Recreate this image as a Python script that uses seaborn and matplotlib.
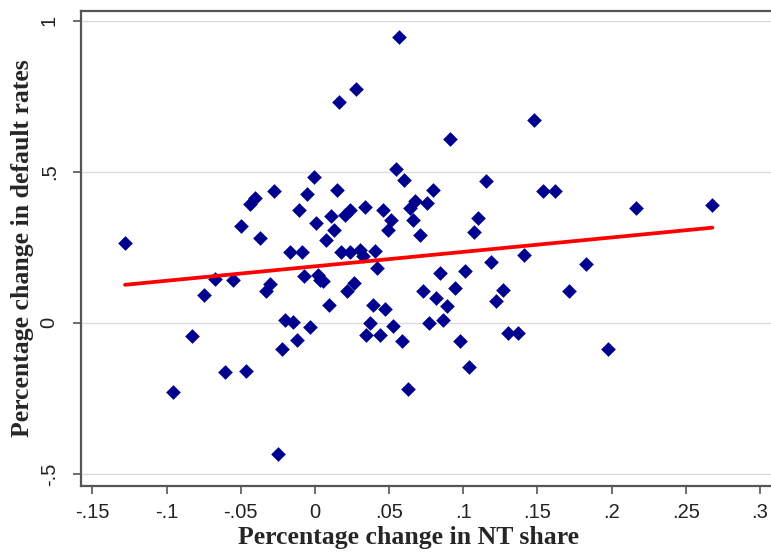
# Scatter of default-rate change against NT share change, with linear fit

import matplotlib
matplotlib.use('Agg')
import matplotlib.pyplot as plt
import seaborn as sns
import pandas as pd

# values
nt_share_change = [
    -0.128, -0.0955, -0.083, -0.0748, -0.0674, -0.0606, -0.0555, -0.0499, -0.0465, -0.0438,
    -0.0404, -0.037, -0.033, -0.0303, -0.0276, -0.0247, -0.022, -0.0202, -0.0168, -0.0146,
    -0.0123, -0.0106, -0.009, -0.0072, -0.005, -0.003, -0.0005, 0.0007, 0.0022, 0.0034,
    0.0056, 0.0074, 0.0094, 0.0108, 0.013, 0.0146, 0.0164, 0.0173, 0.020, 0.0214,
    0.0236, 0.0236, 0.0263, 0.028, 0.0303, 0.0325, 0.0337, 0.0348, 0.037, 0.0389,
    0.0404, 0.042, 0.0438, 0.0456, 0.047, 0.049, 0.051, 0.053, 0.0546, 0.0566,
    0.0589, 0.060, 0.063, 0.064, 0.0662, 0.0674, 0.0708, 0.0726, 0.0753, 0.077,
    0.0797, 0.0815, 0.0842, 0.0865, 0.0894, 0.0914, 0.0943, 0.098, 0.101, 0.104,
    0.107, 0.110, 0.1152, 0.1184, 0.122, 0.1265, 0.130, 0.137, 0.1408, 0.1478,
    0.1539, 0.1617, 0.1714, 0.183, 0.1977, 0.2163, 0.268,
]
default_rate_change = [
    0.263, -0.23, -0.043, 0.093, 0.145, -0.162, 0.142, 0.322, -0.16, 0.392,
    0.413, 0.28, 0.104, 0.127, 0.435, -0.432, -0.086, 0.01, 0.236, 0.002,
    -0.058, 0.374, 0.236, 0.156, 0.426, -0.012, 0.484, 0.332, 0.159, 0.142,
    0.137, 0.275, 0.06, 0.352, 0.308, 0.438, 0.729, 0.236, 0.357, 0.104,
    0.374, 0.236, 0.131, 0.774, 0.242, 0.22, 0.383, -0.04, -0.001, 0.06,
    0.238, 0.181, -0.04, 0.374, 0.045, 0.308, 0.339, -0.009, 0.51, 0.946,
    -0.06, 0.474, -0.22, 0.38, 0.341, 0.402, 0.291, 0.107, 0.398, -0.001,
    0.44, 0.082, 0.164, 0.01, 0.057, 0.609, 0.115, -0.06, 0.17, -0.145,
    0.302, 0.347, 0.468, 0.2, 0.071, 0.109, -0.034, -0.034, 0.225, 0.672,
    0.435, 0.435, 0.104, 0.195, -0.087, 0.38, 0.389,
]

# fitted line, end points
fit_x = [-0.128, 0.268]
fit_y = [0.126, 0.315]

x_ticks = [-0.15, -0.1, -0.05, 0, 0.05, 0.1, 0.15, 0.2, 0.25, 0.3]
x_tick_labels = ['-.15', '-.1', '-.05', '0', '.05', '.1', '.15', '.2', '.25', '.3']
y_ticks = [-0.5, 0, 0.5, 1]
y_tick_labels = ['-.5', '0', '.5', '1']

df = pd.DataFrame({'nt': nt_share_change, 'dr': default_rate_change})

sns.set_style('white')
plt.rcParams['font.family'] = ['Liberation Sans', 'DejaVu Sans']

fig = plt.figure(figsize=(7.71, 5.55), dpi=100)
ax = fig.add_axes([0.105, 0.124, 0.895, 0.857])

# light horizontal grid like Stata
for yv in y_ticks:
    ax.axhline(yv, color='#dcdcdc', linewidth=1.0, zorder=0)

sns.scatterplot(data=df, x='nt', y='dr', marker='D', color='#00008f',
                s=56, linewidth=0, ax=ax, zorder=3)
sns.lineplot(x=fit_x, y=fit_y, color='#ff0000', linewidth=2.7, ax=ax, zorder=4)

ax.set_xlim(-0.1577, 0.3075)
ax.set_ylim(-0.54, 1.033)

ax.set_xticks(x_ticks)
ax.set_xticklabels(x_tick_labels)
ax.set_yticks(y_ticks)
ax.set_yticklabels(y_tick_labels, rotation=90, va='center')
ax.tick_params(axis='x', length=6, width=1.2, color='#555555', pad=6, labelsize=14.5, labelcolor='#222222')
ax.tick_params(axis='y', length=6, width=1.2, color='#555555', pad=10, labelsize=14.5, labelcolor='#222222')
ax.tick_params(bottom=True, left=True)

for side in ['left', 'bottom', 'top']:
    ax.spines[side].set_color('#555555')
    ax.spines[side].set_linewidth(1.6)
ax.spines['right'].set_visible(False)

ax.set_xlabel('Percentage change in NT share', family=['Liberation Serif'],
              fontweight='bold', fontsize=18.5, va='center')
ax.set_ylabel('Percentage change in default rates', family=['Liberation Serif'],
              fontweight='bold', fontsize=18.5, va='center')
ax.xaxis.set_label_coords(0.475, -0.108)
ax.yaxis.set_label_coords(-0.085, 0.5)

plt.savefig('out.png', dpi=100)
